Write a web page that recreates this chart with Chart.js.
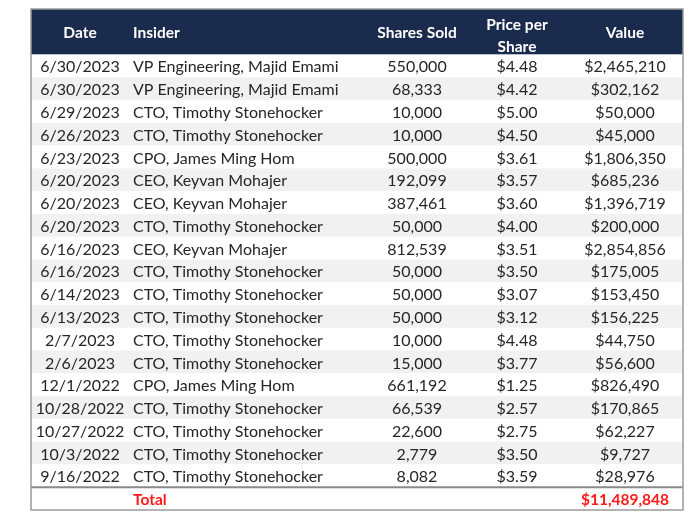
<!DOCTYPE html>
<html>
<head>
<meta charset="utf-8">
<script src="https://cdn.jsdelivr.net/npm/chart.js@4.4.1/dist/chart.umd.min.js"></script>
<style>
  html, body { margin: 0; background: #fff; }
</style>
</head>
<body>
<canvas id="tabela" width="700" height="520"></canvas>
<script>
const cabecalhos = ['Date', 'Insider', 'Shares Sold', ['Price per', 'Share'], 'Value'];

const datas = [
  '6/30/2023', '6/30/2023', '6/29/2023', '6/26/2023', '6/23/2023', '6/20/2023', '6/20/2023',
  '6/20/2023', '6/16/2023', '6/16/2023', '6/14/2023', '6/13/2023', '2/7/2023', '2/6/2023',
  '12/1/2022', '10/28/2022', '10/27/2022', '10/3/2022', '9/16/2022'
];

const insiders = [
  'VP Engineering, Majid Emami', 'VP Engineering, Majid Emami', 'CTO, Timothy Stonehocker',
  'CTO, Timothy Stonehocker', 'CPO, James Ming Hom', 'CEO, Keyvan Mohajer', 'CEO, Keyvan Mohajer',
  'CTO, Timothy Stonehocker', 'CEO, Keyvan Mohajer', 'CTO, Timothy Stonehocker',
  'CTO, Timothy Stonehocker', 'CTO, Timothy Stonehocker', 'CTO, Timothy Stonehocker',
  'CTO, Timothy Stonehocker', 'CPO, James Ming Hom', 'CTO, Timothy Stonehocker',
  'CTO, Timothy Stonehocker', 'CTO, Timothy Stonehocker', 'CTO, Timothy Stonehocker'
];

const acoesVendidas = [
  550000, 68333, 10000, 10000, 500000, 192099, 387461, 50000, 812539, 50000,
  50000, 50000, 10000, 15000, 661192, 66539, 22600, 2779, 8082
];

const precoPorAcao = [
  4.48, 4.42, 5.00, 4.50, 3.61, 3.57, 3.60, 4.00, 3.51, 3.50,
  3.07, 3.12, 4.48, 3.77, 1.25, 2.57, 2.75, 3.50, 3.59
];

const valores = [
  2465210, 302162, 50000, 45000, 1806350, 685236, 1396719, 200000, 2854856, 175005,
  153450, 156225, 44750, 56600, 826490, 170865, 62227, 9727, 28976
];

const rotuloTotal = 'Total';
const valorTotal = 11489848;

// layout da tabela (eixo x = largura da tabela em px, eixo y = linhas)
const colunas = {
  data: 49, insider: 102, acoes: 386, preco: 486, valor: 594
};
const alturaCab = 2;
const totalLinhas = alturaCab + datas.length + 1;
const fonte = 'Lato, "Open Sans", sans-serif';

const numero = (v) => v.toLocaleString('en-US');
const dolar = (v) => '$' + v.toLocaleString('en-US', { minimumFractionDigits: 2, maximumFractionDigits: 2 });
const dolarInteiro = (v) => '$' + v.toLocaleString('en-US');

const desenhaTabela = {
  id: 'desenhaTabela',
  beforeDatasetsDraw(grafico) {
    const ctx = grafico.ctx;
    const x = grafico.scales.x;
    const y = grafico.scales.y;
    const esq = x.getPixelForValue(0);
    const dir = x.getPixelForValue(x.max);
    const px = (v) => x.getPixelForValue(v);
    const py = (v) => y.getPixelForValue(v);
    const base = (v, tam) => py(v) + tam * 0.36 + 0.8;

    ctx.save();
    ctx.textBaseline = 'alphabetic';

    // cabeçalho
    ctx.fillStyle = '#1b2b4d';
    ctx.fillRect(esq, py(0), dir - esq, py(alturaCab) - py(0));

    // linhas zebradas
    datas.forEach((_, i) => {
      ctx.fillStyle = i % 2 === 1 ? '#f1f1f1' : '#ffffff';
      ctx.fillRect(esq, py(alturaCab + i), dir - esq, py(alturaCab + i + 1) - py(alturaCab + i));
    });

    // textos do cabeçalho
    const tamCab = 15.5;
    ctx.fillStyle = '#ffffff';
    ctx.font = 'bold ' + tamCab + 'px ' + fonte;
    const meioCab = base(alturaCab / 2, tamCab);
    ctx.textAlign = 'center';
    ctx.fillText(cabecalhos[0], px(colunas.data), meioCab);
    ctx.textAlign = 'left';
    ctx.fillText(cabecalhos[1], px(colunas.insider), meioCab);
    ctx.textAlign = 'center';
    ctx.fillText(cabecalhos[2], px(colunas.acoes), meioCab);
    ctx.fillText(cabecalhos[3][0], px(colunas.preco), base(0.64, tamCab));
    ctx.fillText(cabecalhos[3][1], px(colunas.preco), base(1.6, tamCab));
    ctx.fillText(cabecalhos[4], px(colunas.valor), meioCab);

    // linhas de dados
    const tam = 16;
    ctx.fillStyle = '#262626';
    ctx.font = tam + 'px ' + fonte;
    datas.forEach((d, i) => {
      const yc = base(alturaCab + i + 0.5, tam);
      ctx.textAlign = 'center';
      ctx.fillText(d, px(colunas.data), yc);
      ctx.fillText(numero(acoesVendidas[i]), px(colunas.acoes), yc);
      ctx.fillText(dolar(precoPorAcao[i]), px(colunas.preco), yc);
      ctx.fillText(dolarInteiro(valores[i]), px(colunas.valor), yc);
      ctx.textAlign = 'left';
      ctx.fillText(insiders[i], px(colunas.insider), yc);
    });

    // total
    const yTot = base(totalLinhas - 0.5, tamCab);
    ctx.fillStyle = '#ff1a1a';
    ctx.font = 'bold ' + tamCab + 'px ' + fonte;
    ctx.textAlign = 'left';
    ctx.fillText(rotuloTotal, px(colunas.insider), yTot);
    ctx.textAlign = 'center';
    ctx.fillText(dolarInteiro(valorTotal), px(colunas.valor), yTot);

    // linha acima do total
    ctx.strokeStyle = '#8a8a8a';
    ctx.lineWidth = 2;
    ctx.beginPath();
    ctx.moveTo(esq, py(totalLinhas - 1));
    ctx.lineTo(dir, py(totalLinhas - 1));
    ctx.stroke();

    // borda externa
    ctx.strokeStyle = '#9a9a9a';
    ctx.lineWidth = 1.5;
    ctx.strokeRect(esq, py(0), dir - esq, py(totalLinhas) - py(0));

    ctx.restore();
  }
};

const tabela = new Chart(document.getElementById('tabela'), {
  type: 'scatter',
  data: { datasets: [{ data: [], pointRadius: 0 }] },
  options: {
    responsive: false,
    animation: false,
    layout: { padding: { left: 31, right: 17, top: 9, bottom: 10 } },
    plugins: { legend: { display: false }, tooltip: { enabled: false } },
    scales: {
      x: { type: 'linear', min: 0, max: 652, display: false },
      y: { type: 'linear', min: 0, max: totalLinhas, reverse: true, display: false }
    }
  },
  plugins: [desenhaTabela]
});
</script>
</body>
</html>
